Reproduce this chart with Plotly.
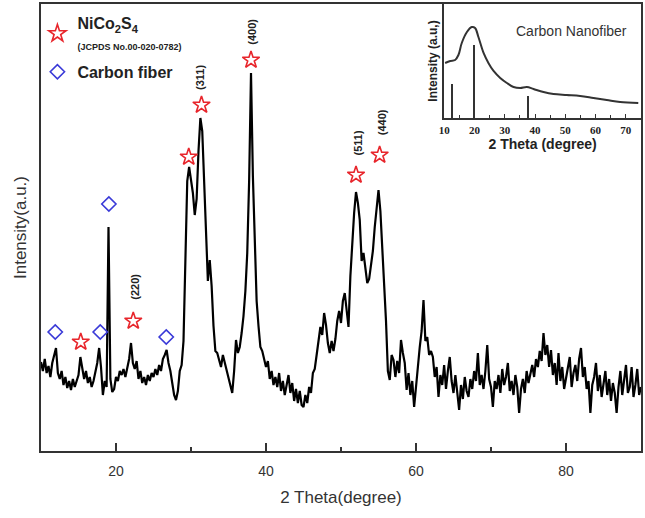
import numpy as np
import plotly.graph_objects as go

# XRD scan, 2theta step 0.25 deg, from 10 to 90
step = 0.25
intensity = [
    89, 80, 92, 78,  # 10
    85, 74, 88, 96,  # 11
    103, 78, 72, 80,  # 12
    66, 74, 63, 70,  # 13
    61, 72, 64, 70,  # 14
    76, 94, 82, 72,  # 15
    80, 68, 74, 64,  # 16
    70, 78, 88, 103,  # 17
    84, 56, 70, 64,  # 18
    224, 72, 59, 62,  # 19
    74, 70, 80, 76,  # 20
    82, 74, 84, 92,  # 21
    108, 88, 82, 90,  # 22
    72, 80, 68, 74,  # 23
    66, 76, 70, 78,  # 24
    74, 82, 76, 86,  # 25
    80, 92, 96, 101,  # 26
    88, 80, 68, 56,  # 27
    51, 60, 80, 86,  # 28
    110, 200, 270, 284,  # 29
    270, 258, 236, 252,  # 30
    300, 333, 320, 270,  # 31
    230, 170, 191, 165,  # 32
    125, 100, 98, 92,  # 33
    84, 96, 88, 80,  # 34
    74, 66, 58, 80,  # 35
    111, 98, 104, 118,  # 36
    135, 160, 198, 270,  # 37
    378, 275, 200, 150,  # 38
    125, 104, 100, 92,  # 39
    84, 90, 72, 80,  # 40
    66, 74, 64, 78,  # 41
    60, 70, 56, 66,  # 42
    76, 58, 68, 50,  # 43
    62, 48, 60, 46,  # 44
    44, 56, 48, 64,  # 45
    58, 78, 82, 96,  # 46
    112, 124, 116, 138,  # 47
    126, 108, 98, 110,  # 48
    100, 112, 130, 140,  # 49
    128, 150, 158, 140,  # 50
    124, 175, 214, 238,  # 51
    259, 248, 231, 190,  # 52
    198, 180, 168, 172,  # 53
    185, 200, 224, 245,  # 54
    261, 240, 204, 165,  # 55
    130, 80, 71, 96,  # 56
    91, 74, 90, 78,  # 57
    111, 98, 88, 61,  # 58
    78, 56, 70, 44,  # 59
    66, 80, 104, 120,  # 60
    151, 110, 114, 96,  # 61
    100, 94, 74, 84,  # 62
    54, 76, 66, 86,  # 63
    62, 80, 94, 70,  # 64
    58, 76, 56, 41,  # 65
    66, 52, 74, 60,  # 66
    54, 72, 62, 80,  # 67
    70, 98, 66, 76,  # 68
    62, 80, 106, 72,  # 69
    64, 44, 70, 62,  # 70
    76, 58, 82, 66,  # 71
    74, 88, 60, 70,  # 72
    56, 76, 64, 38,  # 73
    62, 72, 58, 80,  # 74
    68, 76, 86, 74,  # 75
    92, 84, 100, 90,  # 76
    118, 96, 106, 84,  # 77
    101, 76, 88, 66,  # 78
    98, 70, 84, 62,  # 79
    72, 81, 94, 64,  # 80
    78, 86, 70, 92,  # 81
    103, 74, 84, 62,  # 82
    70, 38, 66, 74,  # 83
    88, 60, 76, 54,  # 84
    68, 80, 56, 72,  # 85
    50, 68, 58, 38,  # 86
    64, 80, 56, 70,  # 87
    86, 58, 64, 84,  # 88
    54, 66, 82, 56,  # 89
    64,  # 90
]
two_theta = 10 + step * np.arange(len(intensity))

# NiCo2S4 reflections (stars) and carbon fiber (diamonds)
star_theta = [15.3, 22.3, 29.7, 31.4, 38.0, 52.0, 55.15]
star_height = [109, 130, 294, 346, 391, 276, 296]
diamond_theta = [11.9, 17.9, 19.05, 26.7]
diamond_height = [119, 119, 247, 114]

hkl = ['(220)', '(311)', '(400)', '(511)', '(440)']
hkl_theta = [22.5, 31.2, 38.1, 52.2, 55.5]
hkl_height = [164, 373, 419, 308, 329]

# inset: carbon nanofiber
cnf_theta = [10.3, 12, 13.6, 14.7, 15.8, 17.5, 19.1, 20.2, 21.3, 23.0, 24.6, 26.3,
             28.5, 30.7, 32.9, 35.1, 37.3, 39.5, 42.8, 46.1, 50.5, 54.9, 59.3,
             63.7, 68.1, 74.1]
cnf_intensity = [55, 57, 58, 63, 75, 86, 91, 90, 81, 65, 55, 47,
                 40, 35, 31, 30, 31, 29, 26, 24, 23, 22, 20,
                 18, 16, 15]
ref_theta = [12.6, 20.1, 37.7]
ref_height = [34, 73, 22]

ink = '#333333'
sans = 'Liberation Sans, Arial, sans-serif'

fig = go.Figure()
fig.add_trace(go.Scatter(x=two_theta, y=intensity, mode='lines',
                         line=dict(color='black', width=2.2), showlegend=False))
fig.add_trace(go.Scatter(
    x=star_theta, y=star_height, mode='markers', legendgroup='a',
    marker=dict(symbol='star-open', size=13, color='#e8262c', line=dict(width=1.6)),
    name="NiCo<sub>2</sub>S<sub>4</sub><br><span style='font-size:9px'>(JCPDS No.00-020-0782)</span>"))
fig.add_trace(go.Scatter(
    x=diamond_theta, y=diamond_height, mode='markers', legendgroup='b',
    marker=dict(symbol='diamond-open', size=11, color='#3a3ad8', line=dict(width=1.6)),
    name='Carbon fiber'))

fig.add_trace(go.Bar(x=ref_theta, y=ref_height, width=0.5, marker_color=ink,
                     marker_line_width=0, xaxis='x2', yaxis='y2', showlegend=False))
fig.add_trace(go.Scatter(x=cnf_theta, y=cnf_intensity, mode='lines', line_shape='spline',
                         line=dict(color=ink, width=2), xaxis='x2', yaxis='y2',
                         showlegend=False))

for t, x, y in zip(hkl, hkl_theta, hkl_height):
    fig.add_annotation(x=x, y=y, text=t, textangle=-90, showarrow=False,
                       font=dict(family=sans, size=11, color='#222', weight='bold'))

fig.add_annotation(x=52, y=87, xref='x2', yref='y2', text='Carbon Nanofiber',
                   showarrow=False, font=dict(family=sans, size=14, color=ink))

fig.update_layout(
    width=645, height=518,
    margin=dict(l=41, r=4, t=4, b=67, autoexpand=False),
    plot_bgcolor='white', paper_bgcolor='white',
    legend=dict(x=-0.006, y=0.995, xanchor='left', yanchor='top',
                bgcolor='rgba(0,0,0,0)', tracegroupgap=4,
                font=dict(family=sans, size=16, color='#222', weight='bold')),
    xaxis=dict(range=[10, 90], tickvals=[20, 40, 60, 80], ticks='inside', ticklen=8,
               tickwidth=1.5, tickcolor=ink, minor=dict(tickvals=[30, 50, 70], ticks='inside',
               ticklen=4, tickwidth=1.5, tickcolor=ink),
               showline=True, mirror=True, linecolor=ink, linewidth=1.5,
               showgrid=False, zeroline=False, ticklabelstandoff=6, automargin=False,
               tickfont=dict(family=sans, size=14, color=ink),
               title=dict(text='2 Theta(degree)', font=dict(family=sans, size=17, color=ink),
                          standoff=14)),
    yaxis=dict(range=[0, 447], showticklabels=False, ticks='', showline=True, mirror=True,
               linecolor=ink, linewidth=1.5, showgrid=False, zeroline=False, automargin=False,
               title=dict(text='Intensity(a.u.)', font=dict(family=sans, size=17, color=ink),
                          standoff=8)),
    xaxis2=dict(domain=[0.672, 1], anchor='y2', range=[10, 75],
                tickvals=[10, 20, 30, 40, 50, 60, 70], ticks='inside', ticklen=4,
                tickcolor=ink, minor=dict(tickvals=[15, 25, 35, 45, 55, 65], ticks='inside',
                ticklen=3, tickcolor=ink),
                showline=True, mirror=True, linecolor=ink, linewidth=1.5,
                showgrid=False, zeroline=False, ticklabelstandoff=1, automargin=False,
                tickfont=dict(family='Liberation Serif, Times New Roman, serif', size=11,
                              color='#222', weight='bold'),
                title=dict(text='2 Theta (degree)', standoff=2,
                           font=dict(family=sans, size=14, color='#222', weight='bold'))),
    yaxis2=dict(domain=[0.745, 1], anchor='x2', range=[0, 114], showticklabels=False,
                ticks='', showline=True, mirror=True, linecolor=ink, linewidth=1.5,
                showgrid=False, zeroline=False, automargin=False,
                title=dict(text='Intensity (a.u,)', standoff=2,
                           font=dict(family=sans, size=12, color='#222', weight='bold'))),
    bargap=0,
)

# page body has a default margin; drop it so the figure sits at the window origin
fig.write_html('out.html', config={'displayModeBar': False},
               post_script="document.body.style.margin='0';")
